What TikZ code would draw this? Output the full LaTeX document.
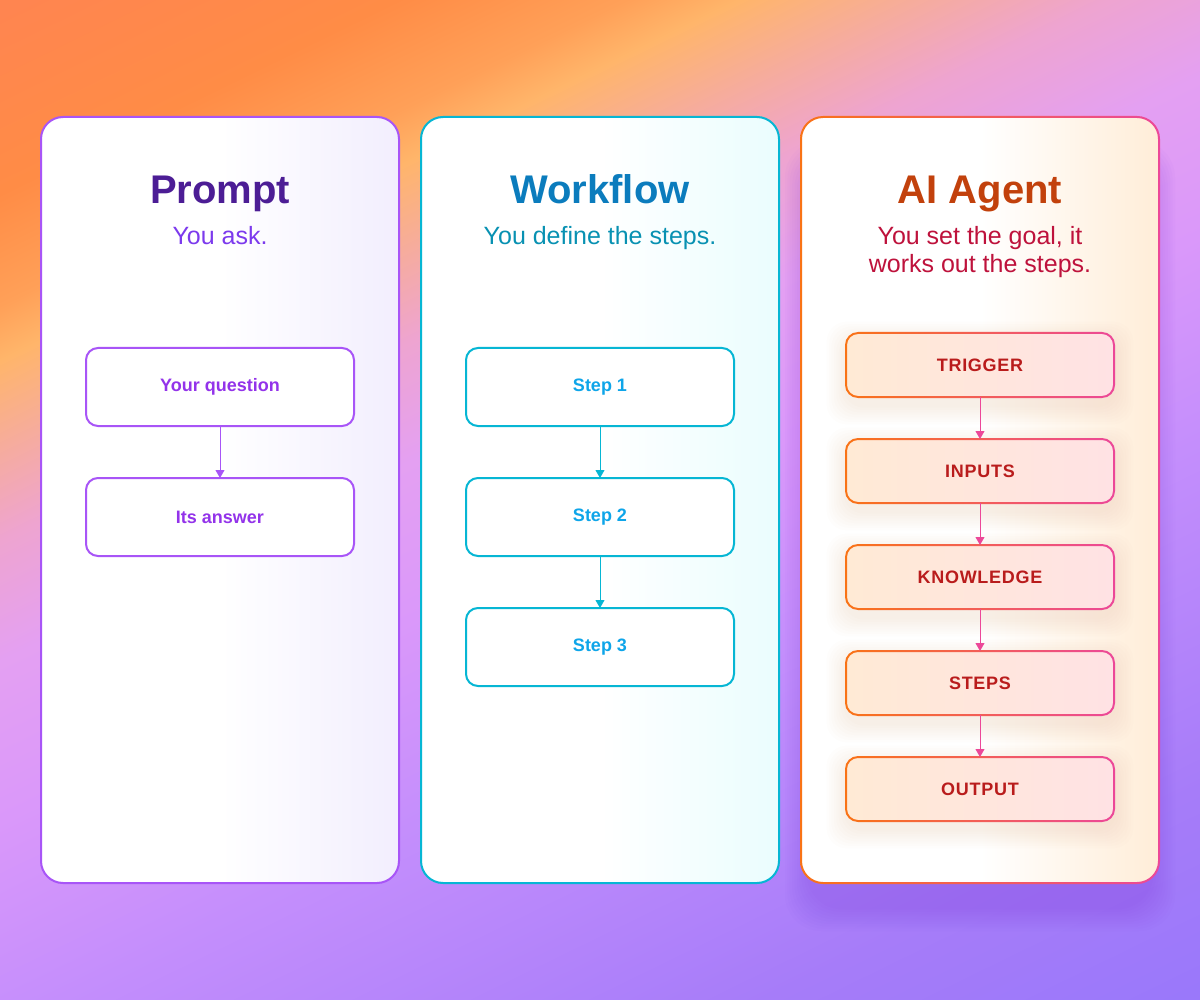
\documentclass[tikz,border=0pt]{standalone}
\usepackage{fontspec}
\setmainfont{Liberation Sans}
\usetikzlibrary{arrows.meta,positioning}

\definecolor{promptdark}{HTML}{4C1D95}
\definecolor{promptmid}{HTML}{7C3AED}
\definecolor{promptline}{HTML}{A855F7}
\definecolor{prompttext}{HTML}{9333EA}
\definecolor{prompttint}{HTML}{F2EEFE}
\definecolor{flowdark}{HTML}{0B7CBD}
\definecolor{flowmid}{HTML}{0891B2}
\definecolor{flowline}{HTML}{06B6D4}
\definecolor{flowtext}{HTML}{0EA5E9}
\definecolor{flowtint}{HTML}{EAFDFE}
\definecolor{agentdark}{HTML}{C2410C}
\definecolor{agentmid}{HTML}{BE123C}
\definecolor{agentorange}{HTML}{F97316}
\definecolor{agentpink}{HTML}{EC4899}
\definecolor{agenttext}{HTML}{B91C1C}
\definecolor{agenttint}{HTML}{FFEDD8}
\definecolor{agentfillL}{HTML}{FFEAD5}
\definecolor{agentfillR}{HTML}{FFE2E4}
\definecolor{shadowcol}{HTML}{6D28D9}
\definecolor{warmshadow}{HTML}{F7B27E}
% backdrop stops, top left to bottom right
\definecolor{bga}{HTML}{FF8550}
\definecolor{bgb}{HTML}{FF8C46}
\definecolor{bgc}{HTML}{FFA058}
\definecolor{bgd}{HTML}{FFB56A}
\definecolor{bge}{HTML}{F6AC9C}
\definecolor{bgf}{HTML}{EEA4D0}
\definecolor{bgg}{HTML}{E4A0F2}
\definecolor{bgh}{HTML}{DA98FA}
\definecolor{bgi}{HTML}{C48EFC}
\definecolor{bgj}{HTML}{A67CF9}
\definecolor{bgk}{HTML}{9A78FA}

\pgfdeclareverticalshading{skyfade}{100bp}{
  color(0bp)=(bgk); color(25.6bp)=(bgk); color(31.9bp)=(bgj);
  color(42.7bp)=(bgi); color(49.1bp)=(bgh); color(54.1bp)=(bgg);
  color(57.9bp)=(bgf); color(60.8bp)=(bge); color(63.5bp)=(bgd);
  color(65.2bp)=(bgc); color(68.7bp)=(bgb); color(74.4bp)=(bga);
  color(100bp)=(bga)}

\pgfdeclarelayer{backdrop}
\pgfdeclarelayer{cardshade}
\pgfdeclarelayer{cards}
\pgfdeclarelayer{boxshade}
\pgfsetlayers{backdrop,cardshade,cards,boxshade,main}

\tikzset{
  card/.style={rectangle, rounded corners=11pt, minimum width=179pt,
    minimum height=383pt, line width=1pt, outer sep=0pt},
  titletxt/.style={anchor=base, font=\fontsize{20}{24}\selectfont\bfseries},
  subtxt/.style={anchor=base, align=center, font=\fontsize{12.5}{14}\selectfont},
  stepbox/.style={rectangle, rounded corners=6pt, fill=white, line width=1pt,
    minimum width=134pt, minimum height=39pt, outer sep=0pt,
    font=\fontsize{9}{11}\selectfont\bfseries},
  agentbox/.style={rectangle, rounded corners=6pt, left color=agentfillL,
    right color=agentfillR, minimum width=134pt, minimum height=32pt,
    outer sep=0pt, text=agenttext,
    font=\fontsize{9}{11}\selectfont\bfseries\addfontfeature{LetterSpace=4}},
}

\begin{document}
\begin{tikzpicture}[x=0.5pt, y=-0.5pt, >={Triangle[width=4.5pt,length=4pt]},
    line width=0.75pt]
    \useasboundingbox (0,0) rectangle (1200,1000);

    % the three cards
    \begin{pgfonlayer}{cards}
    \node[card, draw=promptline, left color=white, right color=prompttint,
          middle color=white] (pcard) at (220,500) {};
    \node[card, draw=flowline, left color=white, right color=flowtint,
          middle color=white] (wcard) at (600,500) {};
    \node[card, left color=white, right color=agenttint,
          middle color=white] (acard) at (980,500) {};
    \path[even odd rule, left color=agentorange, right color=agentpink]
        [rounded corners=11.5pt] ([shift={(-0.5pt,-0.5pt)}]acard.south west) rectangle ([shift={(0.5pt,0.5pt)}]acard.north east)
        [rounded corners=10.5pt] ([shift={(0.5pt,0.5pt)}]acard.south west) rectangle ([shift={(-0.5pt,-0.5pt)}]acard.north east);

    \node[titletxt, text=promptdark] (ptitle) at (220,204) {Prompt};
    \node[subtxt, text=promptmid] (psub) at (220,245) {You ask.};
    \node[titletxt, text=flowdark] (wtitle) at (600,204) {Workflow};
    \node[subtxt, text=flowmid] (wsub) at (600,245) {You define the steps.};
    \node[titletxt, text=agentdark] (atitle) at (980,204) {AI Agent};
    \node[subtxt, text=agentmid] (asub) at (980,273) {You set the goal, it\\works out the steps.};
    \end{pgfonlayer}

    % prompt
    \foreach \n/\y/\t in {q1/387/Your question, q2/517/Its answer}{
       \node[stepbox, draw=promptline, text=prompttext] (\n) at (220,\y) {\t};
    }
    \draw[->, promptline] (q1) -- (q2);

    % workflow
    \foreach \n/\y/\k in {s1/387/1, s2/517/2, s3/647/3}{
       \node[stepbox, draw=flowline, text=flowtext] (\n) at (600,\y) {Step \k};
    }
    \foreach \a/\b in {s1/s2, s2/s3}{
       \draw[->, flowline] (\a) -- (\b);
    }

    % agent
    \foreach \n/\y/\t in {a1/365/TRIGGER, a2/471/INPUTS, a3/577/KNOWLEDGE,
                         a4/683/STEPS, a5/789/OUTPUT}{
       \node[agentbox] (\n) at (980,\y) {\t};
       \path[even odd rule, left color=agentorange, right color=agentpink]
           [rounded corners=6.5pt] ([shift={(-0.5pt,-0.5pt)}]\n.south west) rectangle ([shift={(0.5pt,0.5pt)}]\n.north east)
           [rounded corners=5.5pt] ([shift={(0.5pt,0.5pt)}]\n.south west) rectangle ([shift={(-0.5pt,-0.5pt)}]\n.north east);
    }
    \foreach \a/\b in {a1/a2, a2/a3, a3/a4, a4/a5}{
       \draw[->, agentpink] (\a) -- (\b);
    }

    % soft glows
    \begin{pgfonlayer}{boxshade}
    \foreach \n in {a1,a2,a3,a4,a5}{
       \foreach \s in {1,...,8}{
          \fill[warmshadow, opacity=0.02, rounded corners=10pt]
             ([shift={(-\s*1.2pt,-\s*1.2pt-4pt)}]\n.south west) rectangle
             ([shift={(\s*1.2pt,\s*1.2pt-4pt)}]\n.north east);
       }
    }
    \end{pgfonlayer}
    \begin{pgfonlayer}{cardshade}
    \foreach \s in {1,...,10}{
       \fill[shadowcol, opacity=0.02, rounded corners=18pt]
          ([shift={(-\s*1.2pt+4pt,-\s*1.2pt-12pt)}]acard.south west) rectangle
          ([shift={(\s*1.2pt-4pt,\s*1.2pt-24pt)}]acard.north east);
    }
    \end{pgfonlayer}

    % backdrop
    \begin{pgfonlayer}{backdrop}
    \begin{scope}
       \clip (0,0) rectangle (1200,1000);
       \begin{scope}[transform canvas={rotate around={26:(600,500)}}]
          \shade[shading=skyfade] (-170,-220) rectangle (1370,1220);
       \end{scope}
    \end{scope}
    \end{pgfonlayer}
\end{tikzpicture}
\end{document}
